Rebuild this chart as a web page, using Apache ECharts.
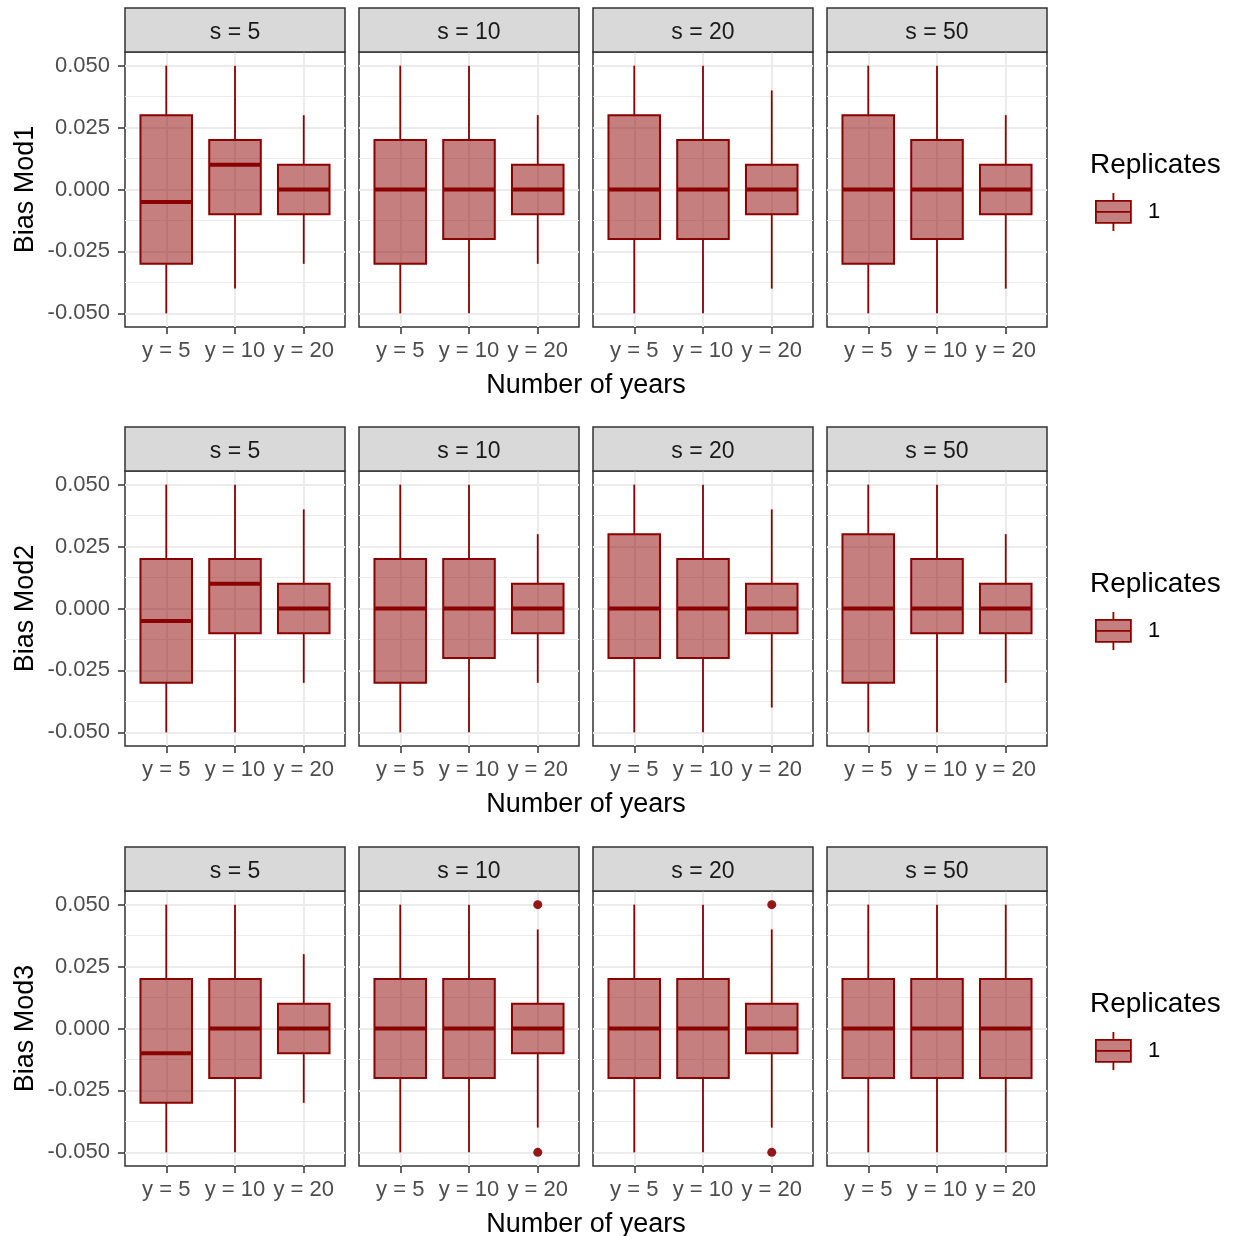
<!DOCTYPE html>
<html><head><meta charset="utf-8">
<script src="https://cdn.jsdelivr.net/npm/echarts@6/dist/echarts.min.js"></script>
<style>html,body{margin:0;padding:0;background:#fff}#c{width:1234px;height:1236px}</style>
</head><body><div id="c"></div>
<script>
// ---------- data ----------
const categories = ['y = 5', 'y = 10', 'y = 20'];
const strips = ['s = 5', 's = 10', 's = 20', 's = 50'];
const models = ['Bias Mod1', 'Bias Mod2', 'Bias Mod3'];
const yTicks = [-0.05, -0.025, 0, 0.025, 0.05];
const yMinor = [-0.0375, -0.0125, 0.0125, 0.0375];
const xTitle = 'Number of years';
const legendTitle = 'Replicates';
const replicate = '1';

// each row: [min, q1, median, q3, max] for y = 5, y = 10, y = 20
const mod1_s5  = [[-0.05, -0.03, -0.005, 0.03, 0.05], [-0.04, -0.01, 0.01, 0.02, 0.05], [-0.03, -0.01, 0, 0.01, 0.03]];
const mod1_s10 = [[-0.05, -0.03, 0, 0.02, 0.05], [-0.05, -0.02, 0, 0.02, 0.05], [-0.03, -0.01, 0, 0.01, 0.03]];
const mod1_s20 = [[-0.05, -0.02, 0, 0.03, 0.05], [-0.05, -0.02, 0, 0.02, 0.05], [-0.04, -0.01, 0, 0.01, 0.04]];
const mod1_s50 = [[-0.05, -0.03, 0, 0.03, 0.05], [-0.05, -0.02, 0, 0.02, 0.05], [-0.04, -0.01, 0, 0.01, 0.03]];

const mod2_s5  = [[-0.05, -0.03, -0.005, 0.02, 0.05], [-0.05, -0.01, 0.01, 0.02, 0.05], [-0.03, -0.01, 0, 0.01, 0.04]];
const mod2_s10 = [[-0.05, -0.03, 0, 0.02, 0.05], [-0.05, -0.02, 0, 0.02, 0.05], [-0.03, -0.01, 0, 0.01, 0.03]];
const mod2_s20 = [[-0.05, -0.02, 0, 0.03, 0.05], [-0.05, -0.02, 0, 0.02, 0.05], [-0.04, -0.01, 0, 0.01, 0.04]];
const mod2_s50 = [[-0.05, -0.03, 0, 0.03, 0.05], [-0.05, -0.01, 0, 0.02, 0.05], [-0.03, -0.01, 0, 0.01, 0.03]];

const mod3_s5  = [[-0.05, -0.03, -0.01, 0.02, 0.05], [-0.05, -0.02, 0, 0.02, 0.05], [-0.03, -0.01, 0, 0.01, 0.03]];
const mod3_s10 = [[-0.05, -0.02, 0, 0.02, 0.05], [-0.05, -0.02, 0, 0.02, 0.05], [-0.04, -0.01, 0, 0.01, 0.04]];
const mod3_s20 = [[-0.05, -0.02, 0, 0.02, 0.05], [-0.05, -0.02, 0, 0.02, 0.05], [-0.04, -0.01, 0, 0.01, 0.04]];
const mod3_s50 = [[-0.05, -0.02, 0, 0.02, 0.05], [-0.05, -0.02, 0, 0.02, 0.05], [-0.05, -0.02, 0, 0.02, 0.05]];

// outliers: [category, value]
const mod3_s10_out = [['y = 20', 0.05], ['y = 20', -0.05]];
const mod3_s20_out = [['y = 20', 0.05], ['y = 20', -0.05]];

const boxes = [
  [mod1_s5, mod1_s10, mod1_s20, mod1_s50],
  [mod2_s5, mod2_s10, mod2_s20, mod2_s50],
  [mod3_s5, mod3_s10, mod3_s20, mod3_s50]
];
const outliers = [
  [[], [], [], []],
  [[], [], [], []],
  [[], mod3_s10_out, mod3_s20_out, []]
];

// ---------- layout / style ----------
const FONT = 'Liberation Sans, Arial, Helvetica, sans-serif';
const colLeft = [125, 359, 593, 827];
const rowTop = [52, 471, 891];
const PW = 220, PH = 275, STRIP = 44;
const YMIN = -0.0555, YMAX = 0.0555;
const DARK = '#8B0000';
const FILL = 'rgba(139,0,0,0.5)';
const GRID = '#EBEBEB';

const chart = echarts.init(document.getElementById('c'), null, { renderer: 'canvas' });

function renderBox(params, api) {
  const x = api.value(0);
  const pMin = api.coord([x, api.value(1)]);
  const pQ1 = api.coord([x, api.value(2)]);
  const pMed = api.coord([x, api.value(3)]);
  const pQ3 = api.coord([x, api.value(4)]);
  const pMax = api.coord([x, api.value(5)]);
  const half = api.size([0.375, 0])[0];
  const cx = pMed[0];
  return {
    type: 'group',
    children: [
      { type: 'line', shape: { x1: cx, y1: pQ3[1], x2: cx, y2: pMax[1] }, style: { stroke: DARK, lineWidth: 1.8 } },
      { type: 'line', shape: { x1: cx, y1: pQ1[1], x2: cx, y2: pMin[1] }, style: { stroke: DARK, lineWidth: 1.8 } },
      { type: 'rect', shape: { x: cx - half, y: pQ3[1], width: 2 * half, height: pQ1[1] - pQ3[1] },
        style: { fill: FILL, stroke: DARK, lineWidth: 2 } },
      { type: 'line', shape: { x1: cx - half, y1: pMed[1], x2: cx + half, y2: pMed[1] }, style: { stroke: DARK, lineWidth: 4 } }
    ]
  };
}

const grid = [], xAxis = [], yAxis = [], series = [], graphic = [], legend = [];
const LEGEND_ICON = 'path://M0,8L35,8L35,30L0,30Z M17.5,0L17.5,8 M17.5,30L17.5,38 M0,19L35,19';

for (let r = 0; r < 3; r++) {
  for (let c = 0; c < 4; c++) {
    const i = r * 4 + c;
    grid.push({ left: colLeft[c], top: rowTop[r], width: PW, height: PH, show: true,
      borderColor: '#333333', borderWidth: 1.5, backgroundColor: 'transparent' });
    xAxis.push({
      type: 'value', gridIndex: i, min: 0.4, max: 3.6, position: 'bottom',
      axisLine: { show: false, onZero: false },
      axisTick: { show: true, customValues: [1, 2, 3], length: 7, lineStyle: { color: '#333333', width: 1.5 } },
      axisLabel: { customValues: [1, 2, 3], formatter: v => categories[Math.round(v) - 1],
        color: '#4D4D4D', fontSize: 22, fontFamily: FONT, margin: 13 },
      splitLine: { show: true, lineStyle: { color: GRID, width: 2 } }
    });
    yAxis.push({
      type: 'value', gridIndex: i, min: YMIN, max: YMAX, position: 'left',
      axisLine: { show: false, onZero: false },
      axisTick: { show: c === 0, customValues: yTicks, length: 7, lineStyle: { color: '#333333', width: 1.5 } },
      axisLabel: { show: c === 0, customValues: yTicks, formatter: v => v.toFixed(3),
        color: '#4D4D4D', fontSize: 22, fontFamily: FONT, margin: 15 },
      splitLine: { show: true, lineStyle: { color: GRID, width: 2 } },
      name: c === 0 ? models[r] : '', nameLocation: 'middle', nameGap: 86,
      nameTextStyle: { fontSize: 27, color: '#000', fontFamily: FONT }
    });
    yAxis.push({
      type: 'value', gridIndex: i, min: YMIN, max: YMAX, position: 'left',
      axisLine: { show: false, onZero: false },
      axisTick: { show: false, customValues: yMinor },
      axisLabel: { show: false },
      splitLine: { show: true, lineStyle: { color: GRID, width: 1 } }
    });
    series.push({
      type: 'custom', name: replicate, xAxisIndex: i, yAxisIndex: 2 * i,
      renderItem: renderBox, z: 3,
      encode: { x: 0, y: [1, 2, 3, 4, 5] },
      data: boxes[r][c].map((b, k) => [k + 1, b[0], b[1], b[2], b[3], b[4]])
    });
    if (outliers[r][c].length) {
      series.push({
        type: 'scatter', name: 'outlier', xAxisIndex: i, yAxisIndex: 2 * i, z: 4,
        symbol: 'circle', symbolSize: 9,
        itemStyle: { color: DARK, opacity: 0.9 },
        data: outliers[r][c].map(o => [categories.indexOf(o[0]) + 1, o[1]])
      });
    }
    // strip
    graphic.push({ type: 'rect', shape: { x: colLeft[c], y: rowTop[r] - STRIP, width: PW, height: STRIP },
      style: { fill: '#D9D9D9', stroke: '#333333', lineWidth: 1.5 }, z: 10 });
    graphic.push({ type: 'text', x: colLeft[c] + PW / 2, y: rowTop[r] - STRIP / 2 + 3, z: 11,
      style: { text: strips[c], fontSize: 23, fontFamily: FONT, fill: '#1A1A1A', align: 'center', verticalAlign: 'middle' } });
  }
  // x title
  graphic.push({ type: 'text', x: (colLeft[0] + colLeft[3] + PW) / 2, y: rowTop[r] + PH + 59, z: 11,
    style: { text: xTitle, fontSize: 27, fontFamily: FONT, fill: '#000', align: 'center', verticalAlign: 'middle' } });
  // legend title
  graphic.push({ type: 'text', x: 1090, y: rowTop[r] + 113, z: 11,
    style: { text: legendTitle, fontSize: 28, fontFamily: FONT, fill: '#000', align: 'left', verticalAlign: 'middle' } });
  legend.push({
    left: 1095, top: rowTop[r] + 140, padding: 0, itemWidth: 35, itemHeight: 38, selectedMode: false,
    data: [{ name: replicate, icon: LEGEND_ICON, itemStyle: { color: FILL, borderColor: DARK, borderWidth: 1.8 } }],
    textStyle: { fontSize: 22, color: '#000', fontFamily: FONT, padding: [0, 0, 0, 12] }
  });
}

chart.setOption({
  animation: false,
  backgroundColor: '#ffffff',
  grid, xAxis, yAxis, series, graphic, legend
});
</script>
</body></html>
